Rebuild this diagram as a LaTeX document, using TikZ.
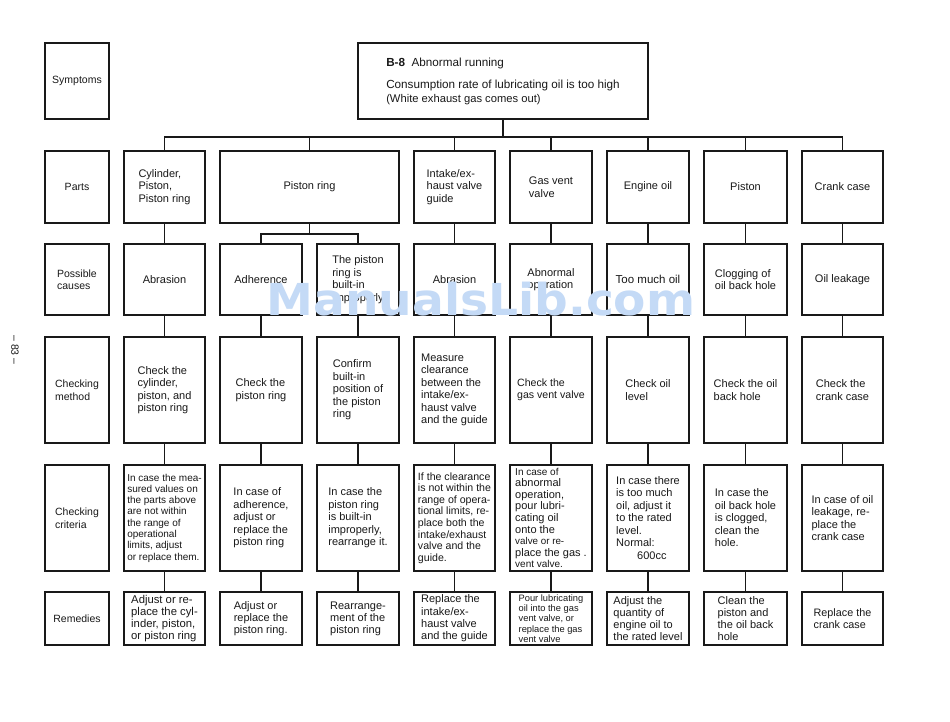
\documentclass[tikz,border=0pt]{standalone}
\usepackage{fontspec}
\setmainfont{Liberation Sans}
\newfontfamily\wmfont{DejaVu Sans}
\definecolor{wm}{RGB}{196,218,246}
\definecolor{ink}{RGB}{25,25,25}
\newcommand\fs[2]{\fontsize{#1}{#2}\selectfont}
\begin{document}
\begin{tikzpicture}[x=1pt,y=-1pt,
  box/.style={draw=ink, line width=1.1pt, rectangle, inner sep=0pt, outer sep=0pt,
              align=left, text=ink, font=\fs{11}{12.5}},
  lbl/.style={box, font=\fs{10.5}{12.5}},
  wire/.style={draw=ink, line width=1.1pt},
  rS/.style={minimum height=76pt}, rP/.style={minimum height=72pt},
  rC/.style={minimum height=71pt}, rM/.style={minimum height=106pt},
  rK/.style={minimum height=106pt}, rR/.style={minimum height=53pt},
  wd/.style={minimum width=#1}
]
\useasboundingbox (0,0) rectangle (950,722);
\fill[white] (0,0) rectangle (950,722);

% label column
\node[lbl, rS, wd=64pt] (sym) at (77,81) {Symptoms};
\node[lbl, rP, wd=64pt] (lparts) at (77,187) {Parts};
\node[lbl, rC, wd=64pt] (lcauses) at (77,279.5) {Possible\\causes};
\node[lbl, rM, wd=64pt] (lmethod) at (77,390) {Checking\\method};
\node[lbl, rK, wd=64pt] (lcrit) at (77,518) {Checking\\criteria};
\node[lbl, rR, wd=64pt] (lrem) at (77,618.5) {Remedies};

% top box
\node[box, rS, wd=290pt, font=\fs{11.7}{14}] (top) at (503,81)
  {\textbf{B-8}\ \ Abnormal running\\[8pt]
   Consumption rate of lubricating oil is too high\\
   {\fs{11.2}{14}(White exhaust gas comes out)}};

% parts
\node[box, rP, wd=81pt] (p1) at (164.5,187) {Cylinder,\\Piston,\\Piston ring};
\node[box, rP, wd=179pt] (p2) at (309.5,187) {Piston ring};
\node[box, rP, wd=81pt] (p3) at (454.5,187) {Intake/ex-\\haust valve\\guide};
\node[box, rP, wd=82pt] (p4) at (551,187) {Gas vent\\valve};
\node[box, rP, wd=82pt] (p5) at (648,187) {Engine oil};
\node[box, rP, wd=83pt] (p6) at (745.5,187) {Piston};
\node[box, rP, wd=81pt] (p7) at (842.5,187) {Crank case};

% possible causes
\node[box, rC, wd=81pt] (c1) at (164.5,279.5) {Abrasion};
\node[box, rC, wd=82pt] (c2a) at (261,279.5) {Adherence};
\node[box, rC, wd=82pt] (c2b) at (358,279.5) {The piston\\ring is\\built-in\\improperly};
\node[box, rC, wd=81pt] (c3) at (454.5,279.5) {Abrasion};
\node[box, rC, wd=82pt] (c4) at (551,279.5) {Abnormal\\operation};
\node[box, rC, wd=82pt, font=\fs{11.5}{12.5}] (c5) at (648,279.5) {Too much oil};
\node[box, rC, wd=83pt] (c6) at (745.5,279.5) {Clogging of\\oil back hole};
\node[box, rC, wd=81pt] (c7) at (842.5,279.5) {Oil leakage};

% checking method
\node[box, rM, wd=81pt] (m1) at (164.5,390) {Check the\\cylinder,\\piston, and\\piston ring};
\node[box, rM, wd=82pt] (m2a) at (261,390) {Check the\\piston ring};
\node[box, rM, wd=82pt] (m2b) at (358,390) {Confirm\\built-in\\position of\\the piston\\ring};
\node[box, rM, wd=81pt] (m3) at (454.5,390) {Measure\\clearance\\between the\\intake/ex-\\haust valve\\and the guide};
\node[box, rM, wd=82pt, font=\fs{10.6}{12.5}] (m4) at (551,390) {Check the\\gas vent valve};
\node[box, rM, wd=82pt] (m5) at (648,390) {Check oil\\level};
\node[box, rM, wd=83pt] (m6) at (745.5,390) {Check the oil\\back hole};
\node[box, rM, wd=81pt] (m7) at (842.5,390) {Check the\\crank case};

% checking criteria
\node[box, rK, wd=81pt, font=\fs{10}{11.3}] (k1) at (164.5,518) {In case the mea-\\sured values on\\the parts above\\are not within\\the range of\\operational\\limits, adjust\\or replace them.};
\node[box, rK, wd=82pt] (k2a) at (261,518) {In case of\\adherence,\\adjust or\\replace the\\piston ring};
\node[box, rK, wd=82pt] (k2b) at (358,518) {In case the\\piston ring\\is built-in\\improperly,\\rearrange it.};
\node[box, rK, wd=81pt, font=\fs{10.6}{11.6}] (k3) at (454.5,518) {If the clearance\\is not within the\\range of opera-\\tional limits, re-\\place both the\\intake/exhaust\\valve and the\\guide.};
\node[box, rK, wd=82pt, font=\fs{11}{11.6}] (k4) at (551,518) {{\fs{10}{11.6}In case of}\\abnormal\\operation,\\pour lubri-\\cating oil\\onto the\\{\fs{9.8}{11.6}valve or re-}\\place the gas .\\{\fs{10}{11.6}vent valve.}};
\node[box, rK, wd=82pt] (k5) at (648,518) {In case there\\is too much\\oil, adjust it\\to the rated\\level.\\Normal:\\\hspace*{21pt}600cc};
\node[box, rK, wd=83pt] (k6) at (745.5,518) {In case the\\oil back hole\\is clogged,\\clean the\\hole.};
\node[box, rK, wd=81pt] (k7) at (842.5,518) {In case of oil\\leakage, re-\\place the\\crank case};

% remedies
\node[box, rR, wd=81pt, font=\fs{11.3}{12}] (r1) at (164.5,618.5) {Adjust or re-\\place the cyl-\\inder, piston,\\or piston ring};
\node[box, rR, wd=82pt, font=\fs{11}{12}] (r2a) at (261,618.5) {Adjust or\\replace the\\piston ring.};
\node[box, rR, wd=82pt, font=\fs{11}{12}] (r2b) at (358,618.5) {Rearrange-\\ment of the\\piston ring};
\node[box, rR, wd=81pt, font=\fs{11}{12.3}] (r3) at (454.5,618.5) {Replace the\\intake/ex-\\haust valve\\and the guide};
\node[box, rR, wd=82pt, font=\fs{9.3}{10.4}] (r4) at (551,618.5) {Pour lubricating\\oil into the gas\\vent valve, or\\replace the gas\\vent valve};
\node[box, rR, wd=82pt, font=\fs{11}{12}] (r5) at (648,618.5) {Adjust the\\quantity of\\engine oil to\\the rated level};
\node[box, rR, wd=83pt, font=\fs{11}{12}] (r6) at (745.5,618.5) {Clean the\\piston and\\the oil back\\hole};
\node[box, rR, wd=81pt, font=\fs{10.8}{12}] (r7) at (842.5,618.5) {Replace the\\crank case};

% connectors: top to parts
\coordinate (bus) at (503,137);
\draw[wire] (top.south) -- (bus);
\draw[wire] (p1.north) -- (p1.north |- bus) -- (p7.north |- bus) -- (p7.north);
\foreach \n in {p2,p3,p4,p5,p6} \draw[wire] (\n.north |- bus) -- (\n.north);

% piston ring split
\coordinate (split) at (309.5,234);
\draw[wire] (p2.south) -- (split);
\draw[wire] (c2a.north) -- (c2a.north |- split) -- (c2b.north |- split) -- (c2b.north);

% vertical chains
\foreach \a/\b in {p1/c1,p3/c3,p4/c4,p5/c5,p6/c6,p7/c7,
  c1/m1,c2a/m2a,c2b/m2b,c3/m3,c4/m4,c5/m5,c6/m6,c7/m7,
  m1/k1,m2a/k2a,m2b/k2b,m3/k3,m4/k4,m5/k5,m6/k6,m7/k7,
  k1/r1,k2a/r2a,k2b/r2b,k3/r3,k4/r4,k5/r5,k6/r6,k7/r7}
  \draw[wire] (\a.south) -- (\b.north);

% page number
\node[rotate=-90, text=ink, font=\fs{10.5}{12}] (pnum) at (15,350) {– 83 –};

% watermark
\node[text=wm, anchor=base, inner sep=0pt, xscale=1.07,
      font=\wmfont\bfseries\fs{44}{44}] (wmark) at (481,315) {ManualsLib.com};
\end{tikzpicture}
\end{document}
